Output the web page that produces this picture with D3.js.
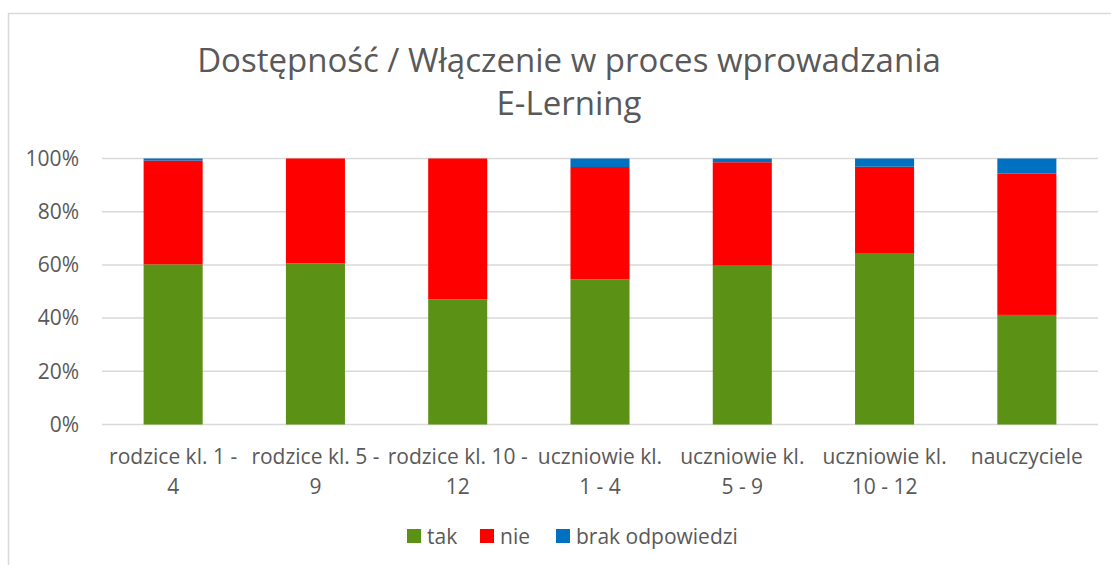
<!DOCTYPE html>
<html><head><meta charset="utf-8">
<script src="https://cdn.jsdelivr.net/npm/d3@7"></script>
<style>
html,body{margin:0;padding:0;background:#fff;}
svg{display:block;}
text{font-family:"Open Sans","Noto Sans",sans-serif;fill:#595959;}
</style></head><body>
<svg id="chart" width="1111" height="565"></svg>
<script>
const titleLines = ["Dostępność / Włączenie w proces wprowadzania", "E-Lerning"];
const categories = ["rodzice kl. 1 - 4", "rodzice kl. 5 - 9", "rodzice kl. 10 - 12", "uczniowie kl. 1 - 4", "uczniowie kl. 5 - 9", "uczniowie kl. 10 - 12", "nauczyciele"];
const categoryLines = [["rodzice kl. 1 -", "4"], ["rodzice kl. 5 -", "9"], ["rodzice kl. 10 -", "12"], ["uczniowie kl.", "1 - 4"], ["uczniowie kl.", "5 - 9"], ["uczniowie kl.", "10 - 12"], ["nauczyciele"]];
const seriesNames = ["tak", "nie", "brak odpowiedzi"];
const tak = [60.2, 60.6, 47.1, 54.6, 59.7, 64.2, 41.2];
const nie = [39.0, 39.4, 52.9, 42.2, 38.9, 32.7, 53.2];
const brak = [0.8, 0.0, 0.0, 3.2, 1.4, 3.1, 5.6];
const yTicks = [0, 20, 40, 60, 80, 100];
const colors = ["#5B9215", "#FF0000", "#0070C0"];

const svg = d3.select("#chart");
// frame
svg.append("rect").attr("x", 8.5).attr("y", 13.5).attr("width", 1120).attr("height", 600)
  .attr("fill", "none").attr("stroke", "#D9D9D9").attr("stroke-width", 1.5);

const x = d3.scaleBand().domain(categories).range([102, 1098]).paddingInner(0.585).paddingOuter(0.2925);
const y = d3.scaleLinear().domain([0, 100]).range([424.5, 158.5]);

// gridlines
svg.append("g").selectAll("line").data(yTicks).join("line")
  .attr("x1", 102).attr("x2", 1098).attr("y1", d => y(d)).attr("y2", d => y(d))
  .attr("stroke", "#D9D9D9").attr("stroke-width", 1.5);

// y axis labels
const yAxis = d3.axisLeft(y).tickValues(yTicks).tickFormat(d => d + "%").tickSize(0).tickPadding(0);
const ya = svg.append("g").attr("transform", "translate(79,0)").call(yAxis);
ya.select(".domain").remove();
ya.selectAll("text").attr("font-size", 21).attr("fill", "#595959").attr("font-family", "Open Sans");

// stacked data
const rows = categories.map((c, i) => ({cat: c, tak: tak[i], nie: nie[i], brak: brak[i]}));
const stack = d3.stack().keys(["tak", "nie", "brak"]);
const layers = stack(rows);
svg.append("g").selectAll("g").data(layers).join("g")
  .attr("fill", (d, i) => colors[i])
  .selectAll("rect").data(d => d).join("rect")
  .attr("x", d => x(d.data.cat)).attr("width", x.bandwidth())
  .attr("y", d => y(d[1])).attr("height", d => y(d[0]) - y(d[1]));

// x labels
const xl = svg.append("g");
categories.forEach((c, i) => {
  const t = xl.append("text").attr("text-anchor", "middle").attr("font-size", 21)
    .attr("x", x(c) + x.bandwidth() / 2).attr("y", 464);
  categoryLines[i].forEach((ln, j) => {
    t.append("tspan").attr("x", x(c) + x.bandwidth() / 2).attr("dy", j === 0 ? 0 : 30).text(ln);
  });
});

// title
svg.append("g").selectAll("text").data(titleLines).join("text")
  .attr("text-anchor", "middle").attr("x", 569).attr("y", (d, i) => 72 + i * 43)
  .attr("font-size", 33).text(d => d);

// legend
const legendX = [407, 480, 556];
const lg = svg.append("g").selectAll("g").data(seriesNames).join("g")
  .attr("transform", (d, i) => `translate(${legendX[i]},529)`);
lg.append("rect").attr("width", 14).attr("height", 14).attr("fill", (d, i) => colors[i]);
lg.append("text").attr("x", 20).attr("y", 15).attr("font-size", 21).text(d => d);
</script>
</body></html>
